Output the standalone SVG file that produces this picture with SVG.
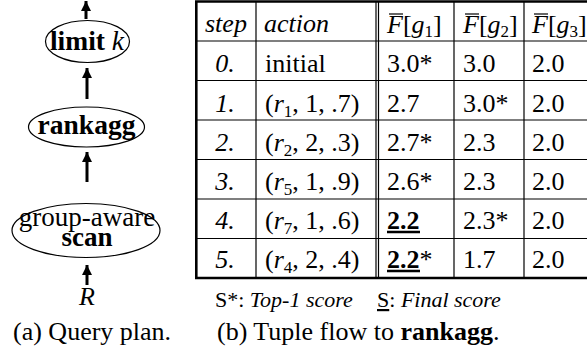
<svg xmlns="http://www.w3.org/2000/svg" width="587" height="362" viewBox="0 0 587 362">
<style>
text{font-family:'Liberation Serif','Times New Roman',serif;font-size:26px;fill:#000}
.i{font-style:italic}
.b{font-weight:bold}
.sub{font-size:17px}
.sm{font-size:22px}
.nl{font-size:27.5px}
.node{fill:#fff;stroke:#000;stroke-width:1.2}
.shaft{stroke:#000;stroke-width:3}
.thin{stroke:#000;stroke-width:1.2;fill:none}
.thick{stroke:#000;stroke-width:2.6;fill:none}
</style>
<defs>
<marker id="ah" markerUnits="userSpaceOnUse" markerWidth="10" markerHeight="10" viewBox="0 0 10 10" refX="10" refY="5" orient="auto">
<path d="M0,0 L10,5 L0,10 Z" fill="#000"/>
</marker>
</defs>
<g id="connectors">
<line class="shaft" x1="86" y1="19" x2="86" y2="1" marker-end="url(#ah)"/>
<line class="shaft" x1="87" y1="99" x2="87" y2="68" marker-end="url(#ah)"/>
<line class="shaft" x1="87" y1="182" x2="87" y2="152" marker-end="url(#ah)"/>
<line class="shaft" x1="87" y1="285" x2="87" y2="265" marker-end="url(#ah)"/>
</g>
<g id="limit">
<ellipse class="node" cx="87.5" cy="41.5" rx="42" ry="21"/>
<text x="87" y="50" text-anchor="middle" class="nl"><tspan class="b">limit </tspan><tspan class="i">k</tspan></text>
</g>
<g id="rankagg">
<ellipse class="node" cx="86.5" cy="127" rx="58" ry="20"/>
<text x="86.5" y="134" text-anchor="middle" class="b nl">rankagg</text>
</g>
<g id="scan">
<ellipse class="node" cx="86" cy="230.5" rx="74" ry="27"/>
<text x="87" y="226" text-anchor="middle" style="font-size:27px">group-aware</text>
<text x="87" y="246" text-anchor="middle" class="b" style="font-size:27px">scan</text>
</g>
<g id="R">
<text x="87" y="305" text-anchor="middle" class="i">R</text>
</g>
<text x="13" y="340">(a) Query plan.</text>
<g id="table">
<line class="thin" x1="196" y1="41" x2="587" y2="41"/>
<line class="thin" x1="196" y1="80.5" x2="587" y2="80.5"/>
<line class="thin" x1="196" y1="120" x2="587" y2="120"/>
<line class="thin" x1="196" y1="159.5" x2="587" y2="159.5"/>
<line class="thin" x1="196" y1="199" x2="587" y2="199"/>
<line class="thin" x1="196" y1="238.5" x2="587" y2="238.5"/>
<line class="thin" x1="256" y1="2" x2="256" y2="278"/>
<line class="thin" x1="376" y1="2" x2="376" y2="278"/>
<line class="thin" x1="378.5" y1="2" x2="378.5" y2="278"/>
<line class="thin" x1="454" y1="2" x2="454" y2="278"/>
<line class="thin" x1="524" y1="2" x2="524" y2="278"/>
<line class="thick" x1="195" y1="1.5" x2="587" y2="1.5"/>
<line class="thick" x1="195" y1="278" x2="587" y2="278"/>
<line class="thick" x1="196.3" y1="1" x2="196.3" y2="279"/>
<text x="205" y="32" class="i">step</text>
<text x="264" y="32" class="i">action</text>
<text x="387" y="33"><tspan class="i">F</tspan>[<tspan class="i">g</tspan><tspan class="sub" dy="4">1</tspan><tspan dy="-4">]</tspan></text>
<text x="463" y="33"><tspan class="i">F</tspan>[<tspan class="i">g</tspan><tspan class="sub" dy="4">2</tspan><tspan dy="-4">]</tspan></text>
<text x="532" y="33"><tspan class="i">F</tspan>[<tspan class="i">g</tspan><tspan class="sub" dy="4">3</tspan><tspan dy="-4">]</tspan></text>
<line class="thin" x1="389" y1="14" x2="403" y2="14"/>
<line class="thin" x1="465" y1="14" x2="479" y2="14"/>
<line class="thin" x1="534" y1="14" x2="548" y2="14"/>
<g class="i" text-anchor="middle">
<text x="225" y="72">0.</text>
<text x="225" y="111.5">1.</text>
<text x="225" y="151">2.</text>
<text x="225" y="189.5">3.</text>
<text x="225" y="228.5">4.</text>
<text x="225" y="267.5">5.</text>
</g>
<text x="265" y="72">initial</text>
<text x="265" y="111.5">(<tspan class="i">r</tspan><tspan class="sub" dy="5">1</tspan><tspan dy="-5">, 1, .7)</tspan></text>
<text x="265" y="151">(<tspan class="i">r</tspan><tspan class="sub" dy="5">2</tspan><tspan dy="-5">, 2, .3)</tspan></text>
<text x="265" y="189.5">(<tspan class="i">r</tspan><tspan class="sub" dy="5">5</tspan><tspan dy="-5">, 1, .9)</tspan></text>
<text x="265" y="228.5">(<tspan class="i">r</tspan><tspan class="sub" dy="5">7</tspan><tspan dy="-5">, 1, .6)</tspan></text>
<text x="265" y="267.5">(<tspan class="i">r</tspan><tspan class="sub" dy="5">4</tspan><tspan dy="-5">, 2, .4)</tspan></text>
<text x="387" y="72">3.0*</text>
<text x="463" y="72">3.0</text>
<text x="532" y="72">2.0</text>
<text x="387" y="111.5">2.7</text>
<text x="463" y="111.5">3.0*</text>
<text x="532" y="111.5">2.0</text>
<text x="387" y="151">2.7*</text>
<text x="463" y="151">2.3</text>
<text x="532" y="151">2.0</text>
<text x="387" y="189.5">2.6*</text>
<text x="463" y="189.5">2.3</text>
<text x="532" y="189.5">2.0</text>
<text x="387" y="228.5" class="b">2.2</text>
<line class="thick" x1="387" y1="232" x2="420" y2="232"/>
<text x="463" y="228.5">2.3*</text>
<text x="532" y="228.5">2.0</text>
<text x="387" y="267.5"><tspan class="b">2.2</tspan>*</text>
<line class="thick" x1="387" y1="271" x2="420" y2="271"/>
<text x="463" y="267.5">1.7</text>
<text x="532" y="267.5">2.0</text>
</g>
<text x="215" y="307" class="sm">S*: <tspan class="i">Top-1 score</tspan></text>
<text x="377" y="307" class="sm"><tspan text-decoration="underline">S</tspan>: <tspan class="i">Final score</tspan></text>
<text x="217" y="340">(b) Tuple flow to <tspan class="b">rankagg</tspan>.</text>
</svg>
